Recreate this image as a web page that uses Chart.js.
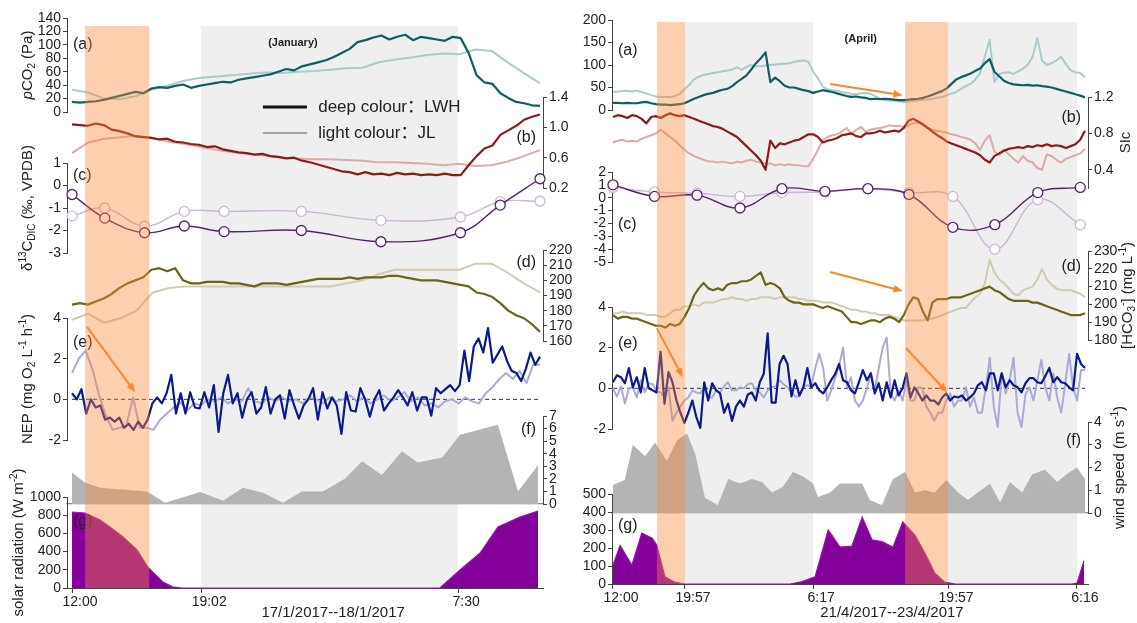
<!DOCTYPE html>
<html>
<head>
<meta charset="utf-8">
<script src="https://cdn.jsdelivr.net/npm/chart.js@4.4.1/dist/chart.umd.min.js"></script>
<style>
  html, body { margin: 0; padding: 0; background: #fff; }
  #wrap { position: relative; width: 1137px; height: 623px; overflow: hidden; background: #fff; }
  #wrap canvas { position: absolute; }
</style>
</head>
<body>
<div id="wrap"></div>
<script>
// x is a sample index running 0..100 across each campaign
const janTickPos = [0, 27.6, 82.5];
const janTickLabels = ['12:00', '19:02', '7:30'];
const aprTickPos = [0, 15.25, 42.4, 71.0, 98.3];
const aprTickLabels = ['12:00', '19:57', '6:17', '19:57', '6:16'];

const janNight = [[27.6, 82.5]];
const janHighlight = [[2.8, 16.5]];
const aprNight = [[15.25, 42.4], [71.0, 98.3]];
const aprHighlight = [[9.3, 15.25], [61.9, 71.0]];

// ---- January (left) ----
const janPco2LWH = [15,14,15,16,18,21,24,27,30,28,35,37,36,39,41,36,39,41,43,45,44,48,50,52,54,56,60,64,62,68,
  71,74,77,82,88,94,104,107,111,114,108,112,115,107,112,110,108,106,112,110,88,55,44,42,28,21,15,13,10,9];
const janPco2JL = [33,29,20,19,24,34,40,47,51,53,55,57,59,58,60,61,63,65,66,74,78,81,85,87,86,93,91,74,58,43];

const janSicLWH = [1.04,1.03,1.02,1.05,1.03,0.97,0.95,0.92,0.88,0.87,0.86,0.84,0.85,0.81,0.80,0.78,0.77,0.74,0.75,0.71,
  0.69,0.67,0.66,0.64,0.65,0.62,0.61,0.59,0.60,0.56,0.54,0.51,0.48,0.45,0.42,0.41,0.38,0.41,0.38,0.39,
  0.37,0.40,0.38,0.39,0.37,0.38,0.37,0.39,0.37,0.37,0.50,0.62,0.72,0.76,0.90,0.96,1.02,1.10,1.14,1.17];
const janSicJL = [0.66,0.80,0.85,0.87,0.89,0.86,0.81,0.78,0.74,0.70,0.67,0.65,0.63,0.60,0.59,0.58,0.58,0.57,0.56,0.54,
  0.54,0.53,0.52,0.50,0.52,0.49,0.50,0.55,0.62,0.70];

const janD13cX = [0, 7, 15.5, 24, 32.5, 49, 66, 83, 91.5, 100];
const janD13cLWH = [-0.4, -1.45, -2.1, -1.8, -2.05, -2.0, -2.5, -2.1, -0.87, 0.3];
const janD13cJL = [-1.35, -1.0, -1.8, -1.15, -1.15, -1.15, -1.55, -1.4, -0.72, -0.7];

const janHco3LWH = [184,185,184,186,188,191,195,198,200,202,207,208,206,208,200,198,198,199,199,199,
  198,198,197,196,198,198,198,197,198,199,200,201,201,201,201,202,201,202,202,202,
  203,203,202,201,200,200,200,199,198,197,196,192,191,189,185,180,177,175,171,166];
const janHco3JL = [174,178,172,175,180,192,195,196,196,196,196,196,196,196,196,196,196,198,200,204,
  207,207,207,207,207,211,211,205,198,192];

const janNepLWH = [0.3,0.0,0.5,-0.7,0.0,-0.4,-0.3,-1.0,-0.9,-1.1,-0.9,-1.4,-1.2,-1.5,-1.1,-1.4,-1.0,-0.2,0.1,-0.2,
  0.3,1.2,-0.7,0.3,-0.7,0.35,-0.4,-0.45,0.35,-0.4,0.7,-1.6,0.3,1.2,-0.2,0.3,-0.9,0.0,0.35,-0.7,
  -0.4,0.6,-0.7,0.0,0.2,-0.95,0.45,-0.3,-0.95,-0.3,0.0,0.55,-1.0,0.35,-0.45,0.1,-0.3,-1.7,0.35,-0.55,
  -0.6,0.55,0.0,-0.85,0.0,0.45,-0.55,-0.2,0.1,0.45,0.1,-0.3,0.35,-0.55,0.1,0.1,-0.8,0.55,0.3,0.5,
  0.7,0.4,0.7,2.4,0.9,2.6,3.0,2.3,3.5,1.8,2.2,2.6,1.9,1.4,1.3,0.9,1.5,2.3,1.7,2.1];
const janNepJL = [1.3,2.0,2.4,1.5,0.2,-0.8,-1.5,-1.4,-1.3,0.1,-1.4,-1.4,-1.5,-1.0,-0.7,-0.4,-0.15,-0.55,-0.2,-0.3,
  0.0,-0.1,0.1,-0.2,0.0,-0.1,0.55,-0.1,-0.2,0.1,-0.1,0.1,-0.1,0.0,-0.2,0.1,0.0,-0.2,0.1,-0.1,
  0.0,0.2,-0.1,0.1,-0.2,0.0,0.2,-0.1,0.1,0.35,-0.1,0.1,-0.3,-0.2,-0.4,-0.1,0.0,-0.2,0.1,-0.1,
  -0.2,0.3,0.6,1.0,1.3,1.0,1.4,0.8,1.7,1.7];

const janWindX = [0,2.8,6,16,19.9,27.4,32.3,36.5,40.8,45.1,49.1,53.6,58.3,62,66.2,70.5,73.9,79.1,82.9,91,95.3,99.6];
const janWind = [2.5,1.7,1.3,1.0,0.1,0.95,0.25,1.3,0.9,0.1,1.0,1.0,2.0,3.4,2.3,4.2,3.3,3.7,5.5,6.3,1.0,3.1];

const janSolarX = [0,2.8,6,8.1,10.9,13.9,16.2,19.4,21.5,23.5,78.6,82.9,87.2,91,95.7,99.6];
const janSolar = [835,824,747,670,560,418,230,66,12,0,0,198,385,670,780,846];

// ---- April (right) ----
const aprPco2LWH = [16,16,15,16,15,15,17,18,15,13,12,12,11,12,13,15,20,25,29,33,
  36,38,42,45,47,53,62,69,77,90,104,115,128,62,72,64,54,50,50,47,
  44,42,38,41,44,42,40,37,34,31,29,30,28,27,24,25,24,25,24,23,
  22,22,23,24,25,27,30,34,38,42,48,58,68,73,77,81,87,92,104,113,
  85,75,65,60,57,56,55,56,54,55,53,52,50,47,44,41,38,35,32,28];
const aprPco2JL = [40,41,42,43,41,43,40,37,33,30,29,29,29,31,36,46,56,68,74,78,
  80,82,84,86,88,90,95,89,96,100,97,97,99,100,101,102,103,104,107,109,
  110,107,85,70,52,46,44,43,40,38,36,35,37,38,36,31,25,22,21,20,
  19,18,19,20,21,22,23,25,27,29,33,36,40,47,53,58,68,82,120,156,
  62,80,83,84,80,86,92,100,118,160,110,100,104,110,118,102,88,84,82,72];

const aprSicLWH = [0.98,1.00,0.99,0.97,1.00,0.99,0.96,0.91,0.98,0.99,0.97,1.00,1.02,1.00,0.99,1.00,0.98,0.96,0.94,0.92,
  0.90,0.88,0.87,0.85,0.82,0.79,0.76,0.71,0.66,0.61,0.56,0.50,0.40,0.72,0.64,0.69,0.68,0.70,0.72,0.73,
  0.76,0.79,0.79,0.76,0.70,0.72,0.73,0.75,0.78,0.79,0.80,0.77,0.76,0.80,0.80,0.81,0.83,0.81,0.82,0.83,
  0.82,0.86,0.94,0.96,0.93,0.90,0.86,0.82,0.78,0.75,0.71,0.69,0.67,0.65,0.63,0.61,0.59,0.56,0.51,0.48,
  0.55,0.58,0.61,0.63,0.64,0.65,0.64,0.66,0.65,0.67,0.66,0.68,0.66,0.67,0.66,0.64,0.66,0.68,0.73,0.83];
const aprSicJL = [0.70,0.72,0.73,0.71,0.72,0.71,0.74,0.76,0.78,0.80,0.84,0.80,0.76,0.72,0.67,0.62,0.58,0.55,0.53,0.51,
  0.49,0.49,0.48,0.49,0.48,0.47,0.49,0.48,0.50,0.51,0.49,0.48,0.47,0.47,0.45,0.46,0.45,0.46,0.45,0.45,
  0.44,0.44,0.52,0.62,0.73,0.76,0.78,0.79,0.82,0.86,0.79,0.84,0.87,0.82,0.84,0.85,0.86,0.87,0.89,0.88,
  0.88,0.87,0.89,0.91,0.92,0.89,0.86,0.84,0.83,0.82,0.81,0.79,0.78,0.76,0.75,0.73,0.69,0.62,0.72,0.78,
  0.60,0.56,0.62,0.57,0.52,0.48,0.55,0.50,0.48,0.42,0.40,0.57,0.55,0.51,0.48,0.52,0.54,0.56,0.58,0.63];

const aprD13cX = [0, 8.8, 17.8, 26.9, 35.8, 44.9, 54, 62.7, 72, 80.9, 90, 99];
const aprD13cLWH = [1.0, 0.1, 0.2, -0.8, 0.7, 0.5, 0.7, 0.25, -2.3, -2.1, 0.4, 0.8];
const aprD13cJL = [0.8, 0.45, 0.35, 0.1, 0.4, 0.45, 0.7, 0.4, 0.1, -4.0, -0.15, -2.1];

const aprHco3LWH = [194,192,193,193,192,192,191,190,189,188,188,187,189,188,189,193,198,205,209,212,
  209,208,209,208,211,212,212,213,213,214,216,218,211,212,211,209,204,202,201,201,
  200,200,200,199,198,199,198,197,196,193,190,190,189,190,191,191,190,192,193,192,
  190,194,200,204,203,196,191,201,203,203,203,204,204,204,205,206,207,208,209,210,
  208,207,205,203,202,202,202,202,201,201,200,199,198,197,196,195,194,194,194,195];
const aprHco3JL = [195,195,196,195,195,195,195,194,194,194,193,193,195,197,197,199,199,200,199,201,
  201,201,202,203,203,204,203,203,202,203,203,204,204,204,203,204,204,204,204,203,
  203,202,202,202,201,201,201,200,199,198,197,197,196,196,195,195,194,194,194,193,
  192,191,191,191,191,191,192,192,193,194,195,196,197,198,198,201,204,206,212,225,
  218,214,212,209,206,205,208,209,210,214,220,214,211,209,208,208,208,207,206,204];

const aprNepLWH = [0.3,0.64,0.55,0.25,1.0,0.05,0.55,-0.2,1.0,0.0,-0.1,-0.2,1.8,-0.75,0.8,0.3,-0.6,-1.2,-1.7,-1.2,
  -0.6,-1.4,-1.95,0.3,-0.6,0.25,-0.1,-0.25,-1.2,-0.75,-1.6,-0.9,-0.6,-0.9,-0.3,-0.2,-0.6,0.3,0.7,2.7,
  -0.7,-0.7,1.2,1.6,1.2,-0.4,0.4,-0.35,0.05,1.0,0.05,0.25,-0.1,-0.25,0.05,0.4,0.7,1.2,0.4,0.3,
  -0.1,-0.25,0.3,0.9,0.4,0.74,-0.25,0.25,-0.6,0.3,-0.45,0.4,-0.35,0.0,0.74,-0.45,0.05,-0.25,-0.6,-0.35,
  -0.6,-0.6,-0.8,-0.45,-0.25,-0.6,-0.4,-0.45,-0.35,-0.6,-0.45,-0.25,0.15,0.3,-0.1,0.74,0.74,-0.1,0.74,0.05,
  0.4,0.15,0.05,-0.2,0.25,0.5,0.5,0.3,0.25,0.6,1.0,0.3,0.55,0.3,0.25,0.05,-0.1,1.7,1.2,1.0];
const aprNepJL = [0.0,-0.4,0.1,-0.75,0.0,0.05,-0.45,0.4,-0.2,0.25,0.2,-0.15,-0.2,-0.45,0.05,-1.6,-1.2,-0.9,-0.6,-0.45,
  -0.1,-0.2,-0.25,0.05,-0.45,-0.45,-0.1,-0.2,0.1,0.3,-0.1,-0.1,0.05,0.0,0.2,0.25,-0.1,-0.2,-0.45,-0.1,
  0.05,0.1,0.4,0.2,0.05,-0.2,-0.4,-0.4,0.1,0.15,0.1,1.0,1.7,1.0,-0.6,-0.1,0.5,1.1,2.0,0.05,
  0.54,-0.6,-0.9,-0.6,0.0,0.74,-0.1,1.0,2.0,2.5,-0.2,-0.6,-0.1,-0.6,0.4,-0.6,-0.6,0.05,0.0,-0.9,
  -1.2,-1.6,-1.2,-1.2,-0.6,-0.25,-0.9,-0.6,-0.6,0.05,-0.9,-0.45,-1.2,-1.2,0.05,1.5,-0.9,-1.9,0.74,-0.25,
  0.4,1.5,-1.2,-1.9,-0.3,0.05,-0.6,0.4,1.4,0.05,-0.6,0.74,-0.45,-1.2,0.2,1.7,0.05,-0.6,0.9,0.9];

const aprWindX = [0,2.5,4.2,6.8,8.9,11.4,13.6,15.7,17.4,19.5,22.2,24.4,26.9,29.4,31.6,33.7,36,38.1,40.3,42.4,
  43.4,46,48.1,50.6,52.8,54.4,57,59.3,61.9,64,66.1,68.2,70.6,73.1,75.2,77.3,79.9,82,84.1,86.7,
  88.8,91.5,94.1,96.4,98.3,100];
const aprWind = [1.23,1.45,3.0,2.5,3.1,2.3,3.2,3.5,2.6,0.66,0.35,1.5,1.3,1.5,1.36,0.9,1.15,1.8,1.6,1.3,
  0.7,0.9,1.3,1.3,1.3,0.57,0.35,1.5,1.8,0.9,1.0,0.9,1.45,0.9,0.57,0.9,1.3,0.45,1.36,0.9,
  1.7,1.9,1.36,1.75,2.0,1.5];

const aprSolarX = [0,1.5,4.0,6.1,8.3,9.3,11.0,13.1,15.3,37.5,39.6,42.8,45.6,48.1,50.6,52.8,54.9,57.0,59.3,61.4,
  64.0,66.1,68.2,70.3,72.5,97.2,98.3,99.8];
const aprSolar = [105,215,105,283,255,215,40,10,0,0,10,40,300,205,210,372,245,235,205,345,
  270,170,60,10,0,0,5,130];

// ---- styling ----
const FONT = 'Liberation Sans, Arial, Noto Sans CJK SC, sans-serif';
const INK = '#222';
const AXIS = '#444';
const ORANGE = '#f5892a';
const C = {
  tealDark: '#0f5e66', tealLight: '#a9cccc',
  redDark: '#8e1b1b', redLight: '#dfaaa6',
  purpleDark: '#5b1e6e', purpleLight: '#cdb7d6',
  oliveDark: '#6e6418', oliveLight: '#d2ccb0',
  navyDark: '#0b1a8f', navyLight: '#abaad6',
  wind: '#b4b4b4', solar: '#84009a', solarLine: '#9b14a8'
};
Chart.defaults.font.family = 'Liberation Sans';

const even = arr => arr.map((v, i) => ({x: i * 100 / (arr.length - 1), y: v}));
const paired = (xs, ys) => xs.map((x, i) => ({x: x, y: ys[i]}));

function trace(points, color, width) {
  return {data: points, borderColor: color, borderWidth: width, pointRadius: 0, tension: 0,
    fill: false, clip: false, borderJoinStyle: 'round'};
}
function dots(points, color) {
  return {data: points, borderColor: color, borderWidth: 1.4, tension: 0.4, pointRadius: 5,
    pointBackgroundColor: '#fff', pointBorderColor: color, pointBorderWidth: 1.3, fill: false, clip: false};
}
function area(points, fillColor, lineColor) {
  return {data: points, backgroundColor: fillColor, borderColor: lineColor || 'rgba(0,0,0,0)',
    borderWidth: lineColor ? 1.2 : 0, pointRadius: 0, tension: 0, fill: 'origin', clip: false};
}

const jan = {left: 0, width: 600, plotL: 67, plotR: 543, xMin: -1.07, xMax: 100.64, top: 26, base: 588,
  tickPos: janTickPos, tickLabels: janTickLabels, night: janNight, highlight: janHighlight,
  caption: '17/1/2017--18/1/2017', captionX: 55.8, month: '(January)', monthX: 47.2, legend: true};
const apr = {left: 570, width: 567, plotL: 612, plotR: 1088, xMin: -0.21, xMax: 100.64, top: 22, base: 584,
  tickPos: aprTickPos, tickLabels: aprTickLabels, night: aprNight, highlight: aprHighlight,
  caption: '21/4/2017--23/4/2017', captionX: 59.1, month: '(April)', monthX: 52.5, legend: false};

const janPanels = [
  {side: 'left', min: 0, max: 140, step: 20, top: 18, bottom: 112, label: '(a)', labelY: 100, titleGap: 39,
   title: [{t: 'p', s: 'i'}, {t: 'CO'}, {t: '2', s: 'sub'}, {t: ' (Pa)'}],
   datasets: [trace(even(janPco2LWH), C.tealDark, 2.2), trace(even(janPco2JL), C.tealLight, 2)]},
  {side: 'right', min: 0.2, max: 1.4, step: 0.4, digits: 1, top: 97, bottom: 188, label: '(b)', labelY: 0.87,
   datasets: [trace(even(janSicLWH), C.redDark, 2.2), trace(even(janSicJL), C.redLight, 2)]},
  {side: 'left', min: -3, max: 1, step: 1, top: 163, bottom: 253, label: '(c)', labelY: 0.45, titleGap: 39,
   title: [{t: 'δ'}, {t: '13', s: 'sup'}, {t: 'C'}, {t: 'DIC', s: 'sub'}, {t: ' (‰, VPDB)'}],
   datasets: [dots(paired(janD13cX, janD13cLWH), C.purpleDark), dots(paired(janD13cX, janD13cJL), C.purpleLight)]},
  {side: 'right', min: 160, max: 220, step: 10, top: 250, bottom: 341, label: '(d)', labelY: 211.4,
   datasets: [trace(even(janHco3LWH), C.oliveDark, 2.2), trace(even(janHco3JL), C.oliveLight, 2)]},
  {side: 'left', min: -2, max: 4, step: 2, top: 318, bottom: 440, label: '(e)', labelY: 2.8, titleGap: 39, zero: true,
   title: [{t: 'NEP (mg O'}, {t: '2', s: 'sub'}, {t: ' L'}, {t: '-1', s: 'sup'}, {t: ' h'}, {t: '-1', s: 'sup'}, {t: ')'}],
   arrows: [[3.2, 3.56, 13.5, 0.35]],
   datasets: [trace(even(janNepLWH), C.navyDark, 2.2), trace(even(janNepJL), C.navyLight, 2)]},
  {side: 'right', min: 0, max: 7, step: 1, top: 416, bottom: 504, label: '(f)', labelY: 5.9, baseLine: true,
   datasets: [area(paired(janWindX, janWind), C.wind)]},
  {side: 'left', min: 0, max: 1000, step: 200, top: 497, bottom: 588, label: '(g)', labelY: 725, titleGap: 48,
   title: [{t: 'solar radiation (W m'}, {t: '-2', s: 'sup'}, {t: ')'}],
   datasets: [area(paired(janSolarX, janSolar), C.solar, C.solarLine)]}
];

const aprPanels = [
  {side: 'left', min: 0, max: 200, step: 50, top: 20, bottom: 110, label: '(a)', labelY: 133,
   arrows: [[46.0, 58, 61.4, 33]],
   datasets: [trace(even(aprPco2LWH), C.tealDark, 2.2), trace(even(aprPco2JL), C.tealLight, 2)]},
  {side: 'right', min: 0.2, max: 1.2, tickValues: [0.4, 0.8, 1.2], digits: 1, top: 97, bottom: 188, label: '(b)', labelY: 0.97,
   titleGap: 38, title: [{t: 'SIc'}],
   datasets: [trace(even(aprSicLWH), C.redDark, 2.2), trace(even(aprSicJL), C.redLight, 2)]},
  {side: 'left', min: -5, max: 2, step: 1, top: 172, bottom: 262, label: '(c)', labelY: -2.1,
   datasets: [dots(paired(aprD13cX, aprD13cLWH), C.purpleDark), dots(paired(aprD13cX, aprD13cJL), C.purpleLight)]},
  {side: 'right', min: 180, max: 230, step: 10, top: 251, bottom: 340, label: '(d)', labelY: 221, titleGap: 40,
   title: [{t: '[HCO'}, {t: '3', s: 'sub'}, {t: '-', s: 'sup'}, {t: '] (mg L'}, {t: '-1', s: 'sup'}, {t: ')'}],
   arrows: [[46.0, 218.2, 61.4, 207.5]],
   datasets: [trace(even(aprHco3LWH), C.oliveDark, 2.2), trace(even(aprHco3JL), C.oliveLight, 2)]},
  {side: 'left', min: -2, max: 4, step: 2, top: 307, bottom: 429, label: '(e)', labelY: 2.2, zero: true,
   arrows: [[9.3, 2.95, 14.8, 0.54], [62.1, 1.97, 70.8, -0.2]],
   datasets: [trace(even(aprNepLWH), C.navyDark, 2.2), trace(even(aprNepJL), C.navyLight, 2)]},
  {side: 'right', min: 0, max: 4, step: 1, top: 422, bottom: 513, label: '(f)', labelY: 3.2, baseLine: true, titleGap: 32,
   title: [{t: 'wind speed (m s'}, {t: '-1', s: 'sup'}, {t: ')'}],
   datasets: [area(paired(aprWindX, aprWind), C.wind)]},
  {side: 'left', min: 0, max: 500, step: 100, top: 494, bottom: 584, label: '(g)', labelY: 322,
   datasets: [area(paired(aprSolarX, aprSolar), C.solar, C.solarLine)]}
];

// ---- drawing helpers ----
const H = 623;

function addCanvas(col) {
  const c = document.createElement('canvas');
  c.width = col.width;
  c.height = H;
  c.style.left = col.left + 'px';
  c.style.top = '0px';
  c.style.width = col.width + 'px';
  c.style.height = H + 'px';
  document.getElementById('wrap').appendChild(c);
  return c;
}

function drawRich(ctx, parts, cx, cy, size) {
  const fontOf = p => (p.s === 'i' ? 'italic ' : '') +
    ((p.s === 'sub' || p.s === 'sup') ? Math.round(size * 0.68) : size) + 'px ' + FONT;
  ctx.save();
  ctx.translate(cx, cy);
  ctx.rotate(-Math.PI / 2);
  ctx.textBaseline = 'middle';
  ctx.textAlign = 'left';
  ctx.fillStyle = INK;
  let w = 0;
  parts.forEach(p => { ctx.font = fontOf(p); w += ctx.measureText(p.t).width; });
  let x = -w / 2;
  parts.forEach(p => {
    ctx.font = fontOf(p);
    const dy = p.s === 'sub' ? size * 0.3 : p.s === 'sup' ? -size * 0.35 : 0;
    ctx.fillText(p.t, x, dy);
    x += ctx.measureText(p.t).width;
  });
  ctx.restore();
}

function drawArrow(ctx, x0, y0, x1, y1) {
  const ang = Math.atan2(y1 - y0, x1 - x0);
  const head = 10;
  ctx.save();
  ctx.strokeStyle = ORANGE;
  ctx.fillStyle = ORANGE;
  ctx.lineWidth = 2;
  ctx.beginPath();
  ctx.moveTo(x0, y0);
  ctx.lineTo(x1 - Math.cos(ang) * head * 0.8, y1 - Math.sin(ang) * head * 0.8);
  ctx.stroke();
  ctx.beginPath();
  ctx.moveTo(x1, y1);
  ctx.lineTo(x1 - head * Math.cos(ang - 0.38), y1 - head * Math.sin(ang - 0.38));
  ctx.lineTo(x1 - head * Math.cos(ang + 0.38), y1 - head * Math.sin(ang + 0.38));
  ctx.closePath();
  ctx.fill();
  ctx.restore();
}

const quiet = {responsive: false, animation: false, devicePixelRatio: 1, events: []};
const noPlugins = {legend: {display: false}, tooltip: {enabled: false}};
const tickFont = {family: 'Liberation Sans', size: 14};

function buildFrame(col) {
  const cv = addCanvas(col);
  const leftW = col.plotL - col.left;
  const rightW = col.left + col.width - col.plotR;
  new Chart(cv, {
    type: 'line',
    data: {datasets: []},
    options: Object.assign({}, quiet, {
      layout: {padding: {top: col.top, left: leftW, right: rightW, bottom: 0}},
      plugins: noPlugins,
      scales: {
        x: {type: 'linear', min: col.xMin, max: col.xMax,
          afterBuildTicks: s => { s.ticks = col.tickPos.map(v => ({value: v})); },
          afterFit: s => { s.height = H - col.base; },
          border: {display: true, color: AXIS, width: 1},
          grid: {drawOnChartArea: false, tickLength: 5, color: AXIS},
          ticks: {autoSkip: false, maxRotation: 0, color: INK, padding: 1, labelOffset: 8,
            font: tickFont, callback: (v, i) => col.tickLabels[i]}},
        y: {display: false, min: 0, max: 1}
      }
    }),
    plugins: [{
      id: 'frame',
      beforeDraw(chart) {
        const ctx = chart.ctx, xs = chart.scales.x, a = chart.chartArea;
        ctx.save();
        ctx.fillStyle = '#efefef';
        col.night.forEach(b => {
          const x0 = xs.getPixelForValue(b[0]), x1 = xs.getPixelForValue(b[1]);
          ctx.fillRect(x0, a.top, x1 - x0, a.bottom - a.top);
        });
        ctx.restore();
      },
      afterDraw(chart) {
        const ctx = chart.ctx, xs = chart.scales.x;
        ctx.save();
        ctx.font = '15px ' + FONT;
        ctx.fillStyle = INK;
        ctx.textAlign = 'center';
        ctx.textBaseline = 'middle';
        ctx.fillText(col.caption, xs.getPixelForValue(col.captionX), chart.height - 10);
        ctx.restore();
      }
    }]
  });
}

function buildOverlay(col) {
  const cv = addCanvas(col);
  const leftW = col.plotL - col.left;
  const rightW = col.left + col.width - col.plotR;
  new Chart(cv, {
    type: 'line',
    data: {datasets: []},
    options: Object.assign({}, quiet, {
      layout: {padding: {top: col.top, left: leftW, right: rightW, bottom: H - col.base}},
      plugins: noPlugins,
      scales: {
        x: {type: 'linear', min: col.xMin, max: col.xMax, display: false},
        y: {display: false, min: 0, max: 1}
      }
    }),
    plugins: [{
      id: 'overlay',
      afterDraw(chart) {
        const ctx = chart.ctx, xs = chart.scales.x, a = chart.chartArea;
        ctx.save();
        ctx.fillStyle = 'rgba(252,135,55,0.4)';
        col.highlight.forEach(b => {
          const x0 = xs.getPixelForValue(b[0]), x1 = xs.getPixelForValue(b[1]);
          ctx.fillRect(x0, a.top, x1 - x0, a.bottom - a.top);
        });
        ctx.fillStyle = INK;
        ctx.font = 'bold 11px ' + FONT;
        ctx.textAlign = 'center';
        ctx.textBaseline = 'middle';
        ctx.fillText(col.month, xs.getPixelForValue(col.monthX), a.top + 17);
        if (col.legend) {
          const items = [{text: 'deep colour：LWH', color: '#111', width: 3},
                         {text: 'light colour：JL', color: '#a0a0a0', width: 2}];
          const lx0 = xs.getPixelForValue(40.8), lx1 = xs.getPixelForValue(50.2), tx = xs.getPixelForValue(52.6);
          ctx.font = '17px ' + FONT;
          ctx.textAlign = 'left';
          items.forEach((it, i) => {
            const yy = a.top + 81 + i * 26;
            ctx.strokeStyle = it.color;
            ctx.lineWidth = it.width;
            ctx.beginPath();
            ctx.moveTo(lx0, yy);
            ctx.lineTo(lx1, yy);
            ctx.stroke();
            ctx.fillStyle = INK;
            ctx.fillText(it.text, tx, yy);
          });
        }
        ctx.restore();
      }
    }]
  });
}

function buildPanel(col, p) {
  const cv = addCanvas(col);
  const leftW = col.plotL - col.left;
  const rightW = col.left + col.width - col.plotR;
  const onLeft = p.side === 'left';
  const y = {
    type: 'linear', position: p.side, min: p.min, max: p.max,
    afterFit: s => { s.width = onLeft ? leftW : rightW; },
    border: {display: true, color: AXIS, width: 1},
    grid: {drawOnChartArea: false, drawTicks: true, tickLength: 4, color: AXIS},
    ticks: {stepSize: p.step, autoSkip: false, color: INK, padding: 2, font: tickFont,
      callback: v => p.digits ? Number(v).toFixed(p.digits) : v}
  };
  if (p.tickValues) y.afterBuildTicks = s => { s.ticks = p.tickValues.map(v => ({value: v})); };
  const x = {type: 'linear', min: col.xMin, max: col.xMax, display: false};
  if (p.baseLine) {
    x.display = true;
    x.afterFit = s => { s.height = 0; };
    x.border = {display: true, color: '#8c8c8c', width: 1.2};
    x.grid = {display: false};
    x.ticks = {display: false};
  }
  new Chart(cv, {
    type: 'line',
    data: {datasets: p.datasets},
    options: Object.assign({}, quiet, {
      layout: {padding: {top: p.top, bottom: H - p.bottom, left: onLeft ? 0 : leftW, right: onLeft ? rightW : 0}},
      plugins: noPlugins,
      scales: {x: x, y: y}
    }),
    plugins: [{
      id: 'decor',
      beforeDatasetsDraw(chart) {
        if (!p.zero) return;
        const ctx = chart.ctx, xs = chart.scales.x, ys = chart.scales.y;
        const yy = ys.getPixelForValue(0);
        ctx.save();
        ctx.setLineDash([4, 3]);
        ctx.strokeStyle = '#333';
        ctx.lineWidth = 1;
        ctx.beginPath();
        ctx.moveTo(xs.getPixelForValue(0), yy);
        ctx.lineTo(xs.getPixelForValue(100), yy);
        ctx.stroke();
        ctx.restore();
      },
      afterDatasetsDraw(chart) {
        const xs = chart.scales.x, ys = chart.scales.y;
        (p.arrows || []).forEach(r => drawArrow(chart.ctx,
          xs.getPixelForValue(r[0]), ys.getPixelForValue(r[1]),
          xs.getPixelForValue(r[2]), ys.getPixelForValue(r[3])));
      },
      afterDraw(chart) {
        const ctx = chart.ctx, a = chart.chartArea, ys = chart.scales.y;
        ctx.save();
        ctx.font = '16px ' + FONT;
        ctx.fillStyle = INK;
        ctx.textBaseline = 'middle';
        ctx.textAlign = onLeft ? 'left' : 'right';
        ctx.fillText(p.label, onLeft ? a.left + 6 : a.right - 7, ys.getPixelForValue(p.labelY));
        ctx.restore();
        if (p.title) {
          const cx = onLeft ? a.left - p.titleGap : a.right + p.titleGap;
          drawRich(ctx, p.title, cx, (a.top + a.bottom) / 2, 15);
        }
      }
    }]
  });
}

[[jan, janPanels], [apr, aprPanels]].forEach(([col, panels]) => {
  buildFrame(col);
  panels.forEach(p => buildPanel(col, p));
  buildOverlay(col);
});
</script>
</body>
</html>
